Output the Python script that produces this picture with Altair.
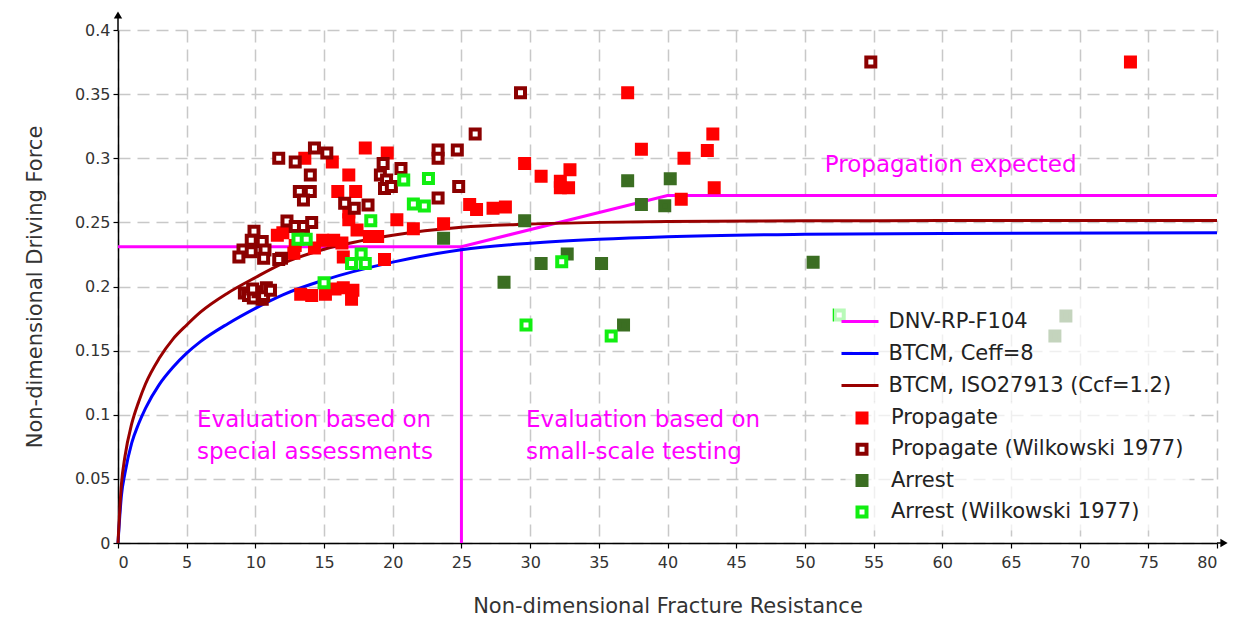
import altair as alt
import pandas as pd

# ---------------- data ----------------
# Propagate (filled red squares)
prop_x = [73.7, 37.1, 43.3, 42.9, 38.1, 41.2, 29.6, 30.8, 32.9, 32.2, 32.2, 32.8, 43.4, 41.0, 25.6, 26.1, 27.3, 28.2,
          18.0, 19.6, 13.6, 15.6, 16.8, 16.0, 17.3, 16.8, 16.8, 17.4, 20.3, 21.5, 23.7, 18.3, 18.9, 14.9, 15.7, 16.3,
          14.3, 12.8, 12.0, 11.6, 16.4, 19.4, 12.9,
          13.3, 14.1, 15.1, 15.8, 16.4, 17.0, 17.1]
prop_y = [0.375, 0.351, 0.319, 0.306, 0.307, 0.300, 0.296, 0.286, 0.291, 0.282, 0.277, 0.277, 0.277, 0.268, 0.264, 0.260, 0.261, 0.262,
          0.308, 0.304, 0.300, 0.297, 0.287, 0.274, 0.274, 0.258, 0.252, 0.244, 0.252, 0.245, 0.249, 0.239, 0.239, 0.236, 0.236, 0.234,
          0.230, 0.226, 0.242, 0.240, 0.223, 0.221, 0.232,
          0.194, 0.193, 0.194, 0.198, 0.199, 0.190, 0.197]

# Propagate (Wilkowski 1977) (open dark-red squares)
propw_x = [54.8, 29.3, 26.0, 24.7, 23.3, 23.3, 24.8, 23.3, 19.3, 20.6, 19.1, 19.55, 19.4, 19.9, 18.2, 17.2, 16.5,
           14.3, 15.2, 12.9, 11.7, 14.0, 13.2, 14.0, 13.5, 12.3, 12.9, 13.5, 14.1, 11.9,
           9.9, 9.7, 10.5, 9.1, 9.7, 10.7, 8.8, 10.6, 11.7,
           9.2, 9.5, 9.85, 10.2, 10.5, 10.6, 10.8, 11.1, 9.8]
propw_y = [0.375, 0.351, 0.319, 0.3065, 0.3065, 0.300, 0.278, 0.269, 0.296, 0.292, 0.287, 0.283, 0.2765, 0.278, 0.2635, 0.261, 0.265,
           0.308, 0.304, 0.297, 0.300, 0.287, 0.274, 0.274, 0.2675, 0.251, 0.2467, 0.2467, 0.250, 0.222,
           0.243, 0.236, 0.235, 0.2285, 0.227, 0.2285, 0.223, 0.222, 0.221,
           0.195, 0.193, 0.191, 0.196, 0.190, 0.193, 0.199, 0.197, 0.198]

# Arrest (filled dark-green squares)
arr_x = [37.1, 40.2, 38.1, 39.8, 29.6, 32.7, 30.8, 35.2, 28.1, 36.8, 23.7, 50.6, 69.0, 68.2]
arr_y = [0.2825, 0.284, 0.264, 0.263, 0.2513, 0.2253, 0.218, 0.218, 0.2033, 0.170, 0.2376, 0.2189, 0.177, 0.1614]

# Arrest (Wilkowski 1977) (open green squares)
arrw_x = [20.8, 22.6, 21.5, 22.3, 18.4, 13.1, 13.7, 17.7, 17.0, 18.0, 15.0, 32.3, 29.7, 35.9, 52.5]
arrw_y = [0.283, 0.2843, 0.2643, 0.2628, 0.2513, 0.2368, 0.2368, 0.2253, 0.218, 0.218, 0.203, 0.2193, 0.170, 0.1614, 0.1778]

# Curves
dnv_x = [0, 25, 40, 80]
dnv_y = [0.231, 0.231, 0.271, 0.271]
dnv_v_x = [25, 25]
dnv_v_y = [0, 0.231]

curve_x = [0, 0.25, 0.5, 1, 1.5, 2, 3, 4, 5, 6, 8, 10, 12, 15, 20, 25, 30, 35, 40, 50, 60, 80]
ceff_y = [0, 0.037, 0.054, 0.078, 0.093, 0.105, 0.1235, 0.137, 0.148, 0.157, 0.171, 0.183, 0.1935,
          0.205, 0.219, 0.2287, 0.2337, 0.2368, 0.2388, 0.2407, 0.2414, 0.2420]
iso_y = [0, 0.046, 0.067, 0.093, 0.110, 0.124, 0.144, 0.159, 0.170, 0.180, 0.195, 0.207, 0.218,
         0.229, 0.240, 0.2462, 0.2487, 0.2500, 0.2507, 0.2512, 0.2514, 0.2515]

line_names = ["DNV-RP-F104", "BTCM, Ceff=8", "BTCM, ISO27913 (Ccf=1.2)"]
line_colors = ["#ff00ff", "#0000ff", "#990000"]

cats = ["Propagate", "Propagate (Wilkowski 1977)", "Arrest", "Arrest (Wilkowski 1977)"]
fill_colors = ["#ff0000", "#ffffff", "#3b6e22", "#ffffff"]
stroke_colors = ["#ff0000", "#8b0000", "#3b6e22", "#11ee11"]

ann_text = ["Propagation expected", "Evaluation based on", "special assessments",
            "Evaluation based on", "small-scale testing"]
ann_x = [51.45, 5.75, 5.75, 29.7, 29.7]
ann_y = [0.2947, 0.0959, 0.0710, 0.0959, 0.0710]

x_ticks = list(range(0, 81, 5))
y_ticks = [0, 0.05, 0.1, 0.15, 0.2, 0.25, 0.3, 0.35, 0.4]

# ---------------- tables ----------------
def line_rows(name, seg, xs, ys):
    return [dict(series=name, seg=name + seg, x=a, y=b, o=i) for i, (a, b) in enumerate(zip(xs, ys))]

dnv_df = pd.DataFrame(line_rows(line_names[0], "h", dnv_x, dnv_y) + line_rows(line_names[0], "v", dnv_v_x, dnv_v_y))
btcm_df = pd.DataFrame(line_rows(line_names[1], "", curve_x, ceff_y) + line_rows(line_names[2], "", curve_x, iso_y))

pts = pd.concat([
    pd.DataFrame({"x": prop_x, "y": prop_y, "cat": cats[0]}),
    pd.DataFrame({"x": propw_x, "y": propw_y, "cat": cats[1]}),
    pd.DataFrame({"x": arr_x, "y": arr_y, "cat": cats[2]}),
    pd.DataFrame({"x": arrw_x, "y": arrw_y, "cat": cats[3]}),
], ignore_index=True)

ann = pd.DataFrame({"x": ann_x, "y": ann_y, "t": ann_text})

W, H = 1099, 513
FONT = "DejaVu Sans"

xaxis = alt.Axis(values=x_ticks, format="d", title="Non-dimensional Fracture Resistance",
                 titleY=63, titleBaseline="middle", labelPadding=6)
yaxis = alt.Axis(values=y_ticks, format=".2~f", title="Non-dimensional Driving Force",
                 titleX=-83, titleBaseline="middle", labelPadding=3)
X = alt.X("x:Q", scale=alt.Scale(domain=[0, 80], nice=False, zero=False), axis=xaxis)
Y = alt.Y("y:Q", scale=alt.Scale(domain=[0, 0.4], nice=False), axis=yaxis)

line_legend = alt.Legend(title=None, orient="none", legendX=716, legendY=265.5, symbolType="stroke",
                         symbolSize=1369, symbolStrokeWidth=3, labelFont=FONT, labelFontSize=21,
                         labelColor="#222222", labelOffset=8.5, rowPadding=2, padding=6,
                         fillColor="rgba(255,255,255,0.7)", labelLimit=0)
color = alt.Color("series:N", scale=alt.Scale(domain=line_names, range=line_colors), legend=line_legend)

dnv_layer = alt.Chart(dnv_df).mark_line(strokeWidth=3).encode(
    x=X, y=Y, color=color, detail="seg:N", order="o:Q")
btcm_layer = alt.Chart(btcm_df).mark_line(strokeWidth=3, interpolate="monotone").encode(
    x=X, y=Y, color=color, detail="seg:N", order="o:Q")

pt_legend = alt.Legend(title=None, orient="none", legendX=727.5, legendY=371.5, symbolType="square",
                       symbolSize=81, symbolStrokeWidth=4, symbolOpacity=1, labelFont=FONT, labelFontSize=21,
                       labelColor="#222222", labelOffset=18.5, rowPadding=6.3, padding=6,
                       fillColor="rgba(255,255,255,0.7)", labelLimit=0)
pt_layer = alt.Chart(pts).mark_square(size=81, strokeWidth=4, opacity=1).encode(
    x=X, y=Y,
    fill=alt.Fill("cat:N", scale=alt.Scale(domain=cats, range=fill_colors), legend=pt_legend),
    stroke=alt.Stroke("cat:N", scale=alt.Scale(domain=cats, range=stroke_colors), legend=pt_legend),
)

text_layer = alt.Chart(ann).mark_text(align="left", baseline="middle", font=FONT, fontSize=23,
                                      color="#ff00ff").encode(x=X, y=Y, text="t:N")

one = pd.DataFrame({"a": [0]})
y_ext = alt.Chart(one).mark_rule(color="black", strokeWidth=1.5).encode(
    x=alt.value(0), y=alt.value(0), y2=alt.value(-14))
y_arrow = alt.Chart(one).mark_point(shape="triangle-up", filled=True, color="black", size=70, opacity=1).encode(
    x=alt.value(0), y=alt.value(-15))
x_ext = alt.Chart(one).mark_rule(color="black", strokeWidth=1.5).encode(
    x=alt.value(W), x2=alt.value(W + 8), y=alt.value(H))
x_arrow = alt.Chart(one).mark_point(shape="triangle-right", filled=True, color="black", size=70, opacity=1).encode(
    x=alt.value(W + 7), y=alt.value(H))

chart = alt.layer(dnv_layer, btcm_layer, pt_layer, text_layer, y_ext, y_arrow, x_ext, x_arrow).properties(
    width=W, height=H,
    padding={"left": 118, "top": 30, "right": 22, "bottom": 75},
    autosize=alt.AutoSizeParams(type="none"),
).configure_view(stroke=None).configure_axis(
    grid=True, gridColor="#c8c8c8", gridDash=[12, 7], gridWidth=1.5,
    domainColor="black", domainWidth=1.5, tickColor="black", tickSize=5, tickWidth=1.2,
    labelFont=FONT, labelFontSize=16, labelColor="#333333",
    titleFont=FONT, titleFontSize=21, titleFontWeight="normal", titleColor="#333333",
)

chart.save("out.html", embed_options={"renderer": "svg", "actions": False})
